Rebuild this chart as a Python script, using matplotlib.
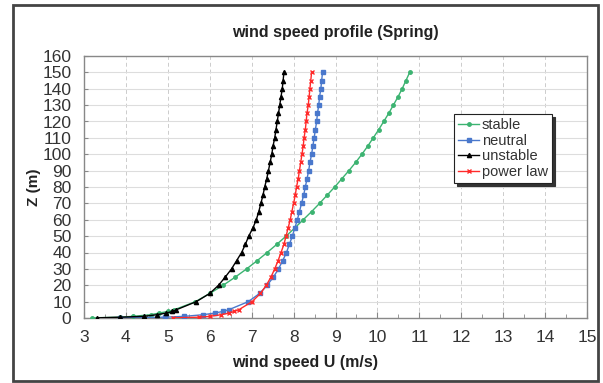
import matplotlib
matplotlib.use("Agg")
import matplotlib.pyplot as plt
from matplotlib.patches import Rectangle
from matplotlib.ticker import MultipleLocator

plt.rcParams['font.family'] = ['Liberation Sans', 'DejaVu Sans']

heights = [0.1, 0.5, 1, 2, 3, 4, 5, 10, 15, 20, 25, 30, 35, 40, 45, 50, 55, 60,
           65, 70, 75, 80, 85, 90, 95, 100, 105, 110, 115, 120, 125, 130, 135,
           140, 145, 150]

stable = [3.20, 3.85, 4.16, 4.59, 4.79, 5.00, 5.15, 5.66, 6.00, 6.32, 6.61, 6.88,
          7.13, 7.37, 7.60, 7.82, 8.03, 8.23, 8.43, 8.62, 8.80, 8.98, 9.15, 9.32,
          9.48, 9.63, 9.77, 9.90, 10.03, 10.15, 10.27, 10.38, 10.49, 10.59,
          10.68, 10.77]

neutral = [3.87, 4.93, 5.39, 5.84, 6.12, 6.31, 6.45, 6.92, 7.19, 7.37, 7.52, 7.64,
           7.74, 7.83, 7.90, 7.97, 8.03, 8.09, 8.14, 8.19, 8.24, 8.28, 8.32, 8.36,
           8.39, 8.43, 8.46, 8.49, 8.52, 8.55, 8.57, 8.60, 8.62, 8.65, 8.67, 8.69]

unstable = [3.32, 3.86, 4.42, 4.74, 4.96, 5.11, 5.20, 5.68, 6.00, 6.21, 6.37, 6.52,
            6.64, 6.76, 6.85, 6.93, 7.03, 7.11, 7.17, 7.22, 7.27, 7.31, 7.36, 7.40,
            7.44, 7.48, 7.51, 7.55, 7.58, 7.61, 7.64, 7.67, 7.70, 7.73, 7.75, 7.77]

power_law = [5.13, 5.75, 6.00, 6.28, 6.46, 6.58, 6.69, 7.01, 7.21, 7.35, 7.46, 7.55,
             7.63, 7.70, 7.77, 7.82, 7.87, 7.92, 7.96, 8.00, 8.04, 8.07, 8.11, 8.14,
             8.17, 8.20, 8.23, 8.25, 8.28, 8.30, 8.32, 8.35, 8.37, 8.39, 8.41, 8.43]

fig = plt.figure(figsize=(6.03, 3.83), dpi=100)
ax = fig.add_axes([84/603, 1-318/383, (587-84)/603, (318-56)/383])

ax.plot(stable, heights, color='#3cb371', lw=1.0, marker='o', ms=2.5,
        label='stable', zorder=3)
ax.plot(neutral, heights, color='#4a78cc', lw=1.0, marker='s', ms=3.3,
        label='neutral', zorder=3)
ax.plot(unstable, heights, color='black', lw=1.0, marker='^', ms=3.0,
        label='unstable', zorder=4)
ax.plot(power_law, heights, color='#ff2a2a', lw=1.0, marker='x', ms=2.5,
        mew=1.0, label='power law', zorder=3)

ax.set_xlim(3, 15)
ax.set_ylim(0, 160)
ax.xaxis.set_major_locator(MultipleLocator(1))
ax.xaxis.set_minor_locator(MultipleLocator(0.5))
ax.yaxis.set_major_locator(MultipleLocator(10))

ax.grid(axis='x', which='major', color='#cccccc', ls=(0, (4, 3)), lw=0.7)
ax.grid(axis='y', which='major', color='#dddddd', ls='-', lw=0.8)
ax.set_axisbelow(True)

for s in ax.spines.values():
    s.set_color('#888888')
    s.set_linewidth(1.0)

ax.tick_params(axis='both', which='both', direction='in', colors='#888888',
               labelcolor='#333333', labelsize=12.5)
ax.tick_params(axis='x', which='major', length=4, pad=9)
ax.tick_params(axis='x', which='minor', length=3)
ax.tick_params(axis='y', which='major', length=3, pad=9)

fig.text(335/603, 1-32/383, 'wind speed profile (Spring)', ha='center',
         va='center', fontsize=11.5, fontweight='bold', color='#222222')
fig.text(305/603, 1-362/383, 'wind speed U (m/s)', ha='center', va='center',
         fontsize=11.5, fontweight='bold', color='#222222')
fig.text(34/603, 1-187/383, 'Z (m)', ha='center', va='center', rotation=90,
         fontsize=11, fontweight='bold', color='#222222')

leg = ax.legend(loc='upper left', bbox_to_anchor=(454/603, 1-114/383),
                bbox_transform=fig.transFigure, borderaxespad=0,
                fancybox=False, shadow={'color': '#333333', 'alpha': 1.0},
                framealpha=1, edgecolor='#222222', fontsize=10.5,
                handlelength=1.4, handletextpad=0.2, labelspacing=0.1,
                borderpad=0.3)
leg.get_frame().set_linewidth(0.8)
for t in leg.get_texts():
    t.set_color('#333333')

fig.patches.append(Rectangle((13/603, 1-381/383), 585/603, 376/383,
                             transform=fig.transFigure, fill=False,
                             edgecolor='#444444', lw=2.0))

fig.savefig('out.png', dpi=100)
